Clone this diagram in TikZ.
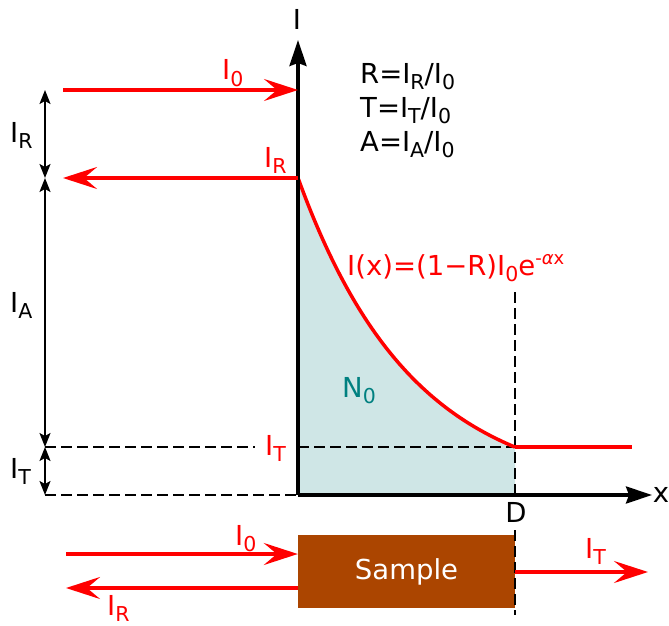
\documentclass[tikz,border=0pt]{standalone}
\usepackage{fontspec}
\setmainfont{DejaVu Sans}
\usetikzlibrary{arrows.meta}
\definecolor{myred}{RGB}{255,0,0}
\definecolor{shadecol}{RGB}{207,230,230}
\definecolor{tealcol}{RGB}{0,128,128}
\definecolor{browncol}{RGB}{171,69,0}
\newcommand\sbs[1]{\raisebox{-6.5pt}{\fontsize{20.5}{20}\selectfont #1}}
\newcommand\sps[1]{\raisebox{11pt}{\fontsize{18}{18}\selectfont #1}}
\begin{document}
\begin{tikzpicture}[x=1pt,y=-1pt,
  font=\fontsize{27.5}{32}\selectfont,
  lbl/.style={inner sep=0pt, anchor=base west},
  redarrow/.style={draw=myred, line width=3.5pt, -{Stealth[length=34pt,width=22pt,inset=13pt]}},
  axisline/.style={line width=3.2pt, -{Stealth[length=26pt,width=17pt,inset=3pt]}},
  dimarrow/.style={line width=1.6pt, {Stealth[length=14pt,width=11pt,inset=3pt]}-{Stealth[length=14pt,width=11pt,inset=3pt]}},
  dashline/.style={line width=2.8pt, dash pattern=on 11pt off 5pt},
  curveline/.style={draw=myred, line width=3.5pt}
]
\useasboundingbox (0,0) rectangle (669,626);

% coordinates
\coordinate (O) at (298,495);
\coordinate (Ytop) at (298,40);
\coordinate (Xend) at (652,495);
\coordinate (C0) at (298,178);
\coordinate (CD) at (515,447);
\coordinate (Cend) at (632,447);
\coordinate (DB) at (515,495);
\coordinate (I0s) at (63,90);
\coordinate (I0e) at (298,90);
\coordinate (IRe) at (63,178);
\coordinate (L0) at (45,90);
\coordinate (L1) at (45,178);
\coordinate (L2) at (45,447);
\coordinate (L3) at (45,495);
\coordinate (DT1) at (255,447);
\coordinate (DT2) at (298,447);
\coordinate (Vtop) at (515,292);
\coordinate (Vlow) at (515,530);
\coordinate (Vbot) at (515,615);

% shaded region
\fill[shadecol] (O) -- (C0) -- plot[domain=298:515, samples=80] (\x, {495-317*exp(-1.89*(\x-298)/217)}) -- (DB) -- cycle;

% dashed lines
\draw[dashline] (L2) -- (DT1);
\draw[dashline] (DT2) -- (CD);
\draw[dashline] (L3) -- (O);
\draw[dashline] (Vtop) -- (DB);

% curve
\draw[curveline] plot[domain=298:515, samples=80] (\x, {495-317*exp(-1.89*(\x-298)/217)});
\draw[curveline] (CD) -- (Cend);

% axes
\draw[axisline] (O) -- (Ytop);
\draw[axisline] (O) -- (Xend);

% sample
\node (sample) [fill=browncol, minimum width=217pt, minimum height=73pt, inner sep=0pt, text=white] at (406.5,571.5) {Sample};

\draw[dashline] (Vlow) -- (Vbot);

% red arrows
\draw[redarrow] (I0s) -- (I0e);
\draw[redarrow] (C0) -- (IRe);
\coordinate (B0s) at (66,554);
\coordinate (BRe) at (66,588);
\coordinate (BTe) at (648,572);
\draw[redarrow] (B0s) -- (sample.west |- B0s);
\draw[redarrow] (sample.west |- BRe) -- (BRe);
\draw[redarrow] (sample.east |- BTe) -- (BTe);

% dimension arrows
\draw[dimarrow] (L0) -- (L1);
\draw[dimarrow] (L1) -- (L2);
\draw[dimarrow] (L2) -- (L3);

% labels
\node (lI) [inner sep=0pt, anchor=base] at (297,30) {I};
\node (lx) [inner sep=0pt, anchor=base] at (661,502) {x};
\node (lD) [inner sep=0pt, anchor=base] at (516,522) {D};
\node (lI0) [lbl, text=myred] at (222,80) {I\sbs{0}};
\node (lIRr) [lbl, text=myred] at (264,167) {I\sbs{R}};
\node (lITr) [lbl, text=myred] at (265,455) {I\sbs{T}};
\node (lIR) [lbl] at (10,142) {I\sbs{R}};
\node (lIA) [lbl] at (10,312) {I\sbs{A}};
\node (lIT) [lbl] at (10,478) {I\sbs{T}};
\node (lB0) [lbl, text=myred] at (235,545) {I\sbs{0}};
\node (lBR) [lbl, text=myred] at (107,615) {I\sbs{R}};
\node (lBT) [lbl, text=myred] at (585,558) {I\sbs{T}};
\node (lN0) [lbl, text=tealcol] at (342,397) {N\sbs{0}};
\node (lform) [lbl, text=myred] at (347,275) {I(x)=(1−R)I\sbs{0}e\sps{-\textit{α}x}};
\node (lR) [lbl] at (360,83) {R=I\sbs{R}/I\sbs{0}};
\node (lT) [lbl] at (360,117) {T=I\sbs{T}/I\sbs{0}};
\node (lA) [lbl] at (360,151) {A=I\sbs{A}/I\sbs{0}};
\end{tikzpicture}
\end{document}
